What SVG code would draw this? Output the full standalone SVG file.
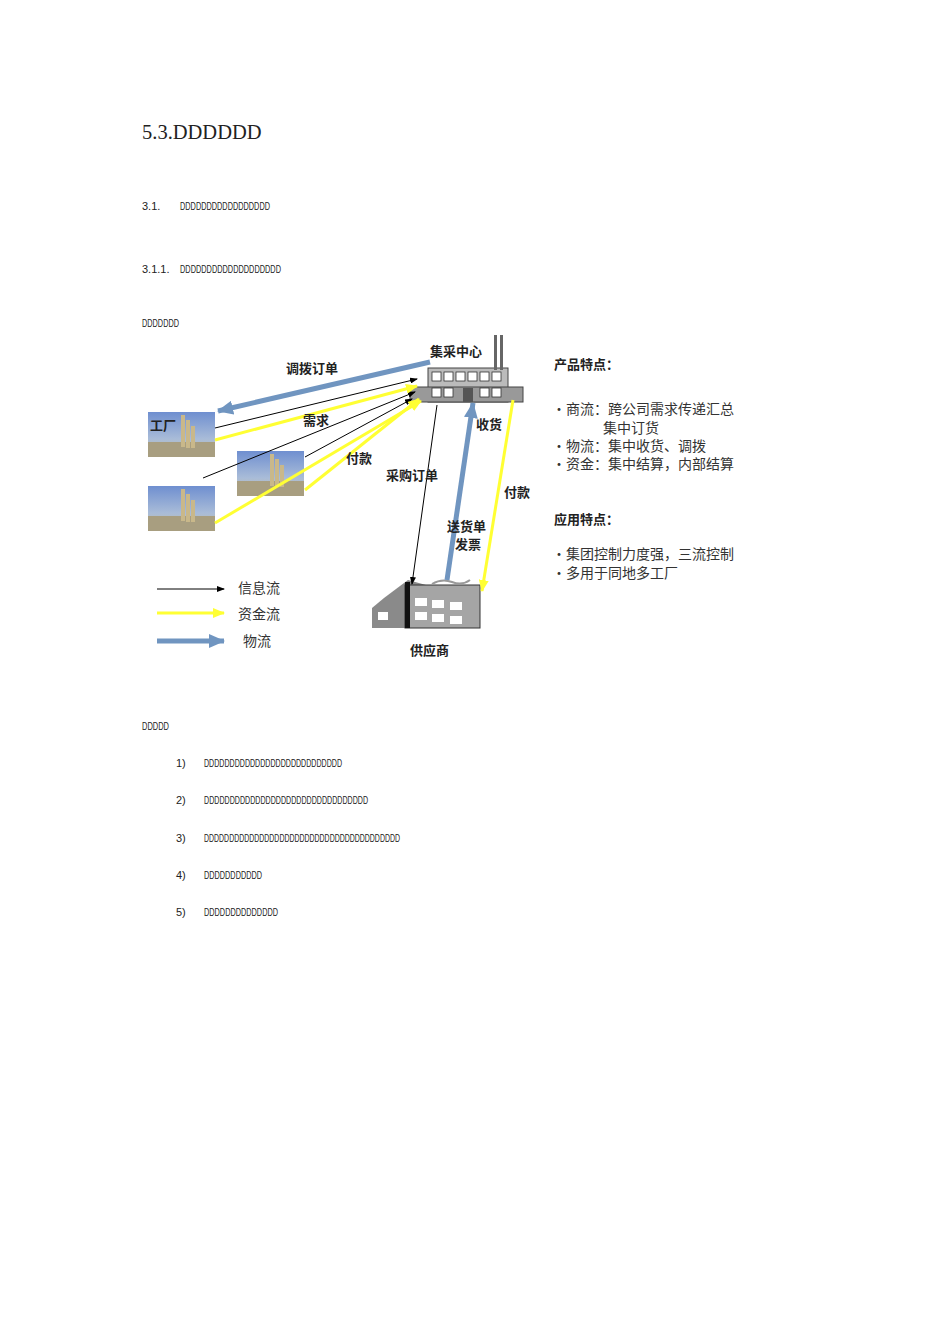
<svg xmlns="http://www.w3.org/2000/svg" width="950" height="1344" viewBox="0 0 950 1344">
<style>
.d{font-family:"Liberation Sans Narrow","Liberation Sans",sans-serif;font-size:11px;fill:#222}
.cj{font-family:"Noto Sans CJK SC",sans-serif;font-size:13px;fill:#222}
.n{font-size:14px;fill:#333}
.b{font-weight:bold}
.inf{stroke:#000;stroke-width:1;fill:none}
.yel{stroke:#ffff33;stroke-width:3;fill:none}
.blu{stroke:#7095c0;stroke-width:5;fill:none}
</style>
<defs>
<marker id="ma" markerWidth="8" markerHeight="6" refX="7" refY="3" orient="auto" markerUnits="userSpaceOnUse"><path d="M0,0L8,3L0,6z" fill="#000"/></marker>
<marker id="my" markerWidth="12" markerHeight="10" refX="11" refY="5" orient="auto" markerUnits="userSpaceOnUse"><path d="M0,0L12,5L0,10z" fill="#ffff33"/></marker>
<marker id="mb" markerWidth="16" markerHeight="14" refX="15" refY="7" orient="auto" markerUnits="userSpaceOnUse"><path d="M0,0L16,7L0,14z" fill="#7095c0"/></marker>
<linearGradient id="sky" x1="0" y1="0" x2="0" y2="1"><stop offset="0" stop-color="#6f8fd0"/><stop offset="0.6" stop-color="#a9bcd8"/><stop offset="1" stop-color="#c8c0a0"/></linearGradient>
<g id="fac"><rect width="67" height="45" fill="url(#sky)"/><rect x="0" y="30" width="67" height="15" fill="#a89e80"/><rect x="33" y="3" width="4" height="32" fill="#c9b88a"/><rect x="38" y="8" width="4" height="28" fill="#c9b88a"/><rect x="43" y="14" width="4" height="22" fill="#c9b88a"/></g>
</defs>
<rect width="950" height="1344" fill="#fff"/>
<text x="142" y="139" font-family="Liberation Serif,serif" font-size="20.5" fill="#222">5.3.DDDDDD</text>
<text x="142" y="210" class="d">3.1.</text><text x="180" y="210" class="d" textLength="90" lengthAdjust="spacingAndGlyphs">DDDDDDDDDDDDDDDDD</text>
<text x="142" y="273" class="d">3.1.1.</text><text x="180" y="273" class="d" textLength="101" lengthAdjust="spacingAndGlyphs">DDDDDDDDDDDDDDDDDDD</text>
<text x="142" y="327" class="d" textLength="37" lengthAdjust="spacingAndGlyphs">DDDDDDD</text>
<g id="factory1"><use href="#fac" x="148" y="412"/><text x="150" y="430" class="cj b" font-size="14">工厂</text></g>
<g id="factory2"><use href="#fac" x="237" y="451"/></g>
<g id="factory3"><use href="#fac" x="148" y="486"/></g>
<g id="center">
<rect x="428" y="368" width="80" height="34" fill="#bbb" stroke="#444"/>
<rect x="410" y="387" width="113" height="15" fill="#999" stroke="#444"/>
<rect x="494" y="335" width="3" height="35" fill="#666"/><rect x="500" y="335" width="3" height="35" fill="#666"/>
<g fill="#fff" stroke="#333" stroke-width="0.8"><rect x="432" y="372" width="9" height="9"/><rect x="444" y="372" width="9" height="9"/><rect x="456" y="372" width="9" height="9"/><rect x="468" y="372" width="9" height="9"/><rect x="480" y="372" width="9" height="9"/><rect x="492" y="372" width="9" height="9"/><rect x="432" y="388" width="9" height="9"/><rect x="444" y="388" width="9" height="9"/><rect x="480" y="388" width="9" height="9"/><rect x="492" y="388" width="9" height="9"/></g>
<rect x="463" y="388" width="10" height="14" fill="#555"/>
<text x="430" y="356" class="cj b">集采中心</text></g>
<g id="supplier">
<path d="M372,628V608L384,598L408,580L480,600V628Z" fill="#8a8a8a"/>
<rect x="405" y="585" width="75" height="43" fill="#a5a5a5" stroke="#333"/>
<rect x="405" y="582" width="5" height="46" fill="#111"/>
<g fill="#fff"><rect x="415" y="598" width="12" height="8"/><rect x="432" y="600" width="12" height="8"/><rect x="450" y="602" width="12" height="8"/><rect x="415" y="612" width="12" height="8"/><rect x="432" y="614" width="12" height="8"/><rect x="450" y="616" width="12" height="8"/><rect x="378" y="612" width="10" height="8"/></g>
<path d="M432,584q10,-6 20,-2t18,-2" stroke="#999" fill="none" stroke-width="2"/>
<text x="410" y="655" class="cj b">供应商</text></g>
<g id="connectors">
<line class="blu" x1="430" y1="362" x2="218" y2="411" marker-end="url(#mb)"/>
<line class="inf" x1="215" y1="428" x2="417" y2="379" marker-end="url(#ma)"/>
<line class="inf" x1="203" y1="478" x2="415" y2="392" marker-end="url(#ma)"/>
<line class="inf" x1="305" y1="457" x2="412" y2="399" marker-end="url(#ma)"/>
<line class="yel" x1="215" y1="440" x2="417" y2="386" marker-end="url(#my)"/>
<line class="yel" x1="305" y1="490" x2="419" y2="399" marker-end="url(#my)"/>
<line class="yel" x1="215" y1="523" x2="421" y2="401" marker-end="url(#my)"/>
<line class="inf" x1="437" y1="405" x2="412" y2="584" marker-end="url(#ma)"/>
<line class="blu" x1="447" y1="580" x2="473" y2="403" marker-end="url(#mb)"/>
<line class="yel" x1="513" y1="400" x2="482" y2="591" marker-end="url(#my)"/>
<text x="286" y="373" class="cj b">调拨订单</text>
<text x="303" y="425" class="cj b">需求</text>
<text x="346" y="463" class="cj b">付款</text>
<text x="386" y="480" class="cj b">采购订单</text>
<text x="476" y="429" class="cj b">收货</text>
<text x="504" y="497" class="cj b">付款</text>
<text x="447" y="531" class="cj b">送货单</text>
<text x="455" y="549" class="cj b">发票</text>
</g>
<g id="legend">
<line class="inf" x1="157" y1="589" x2="224" y2="589" marker-end="url(#ma)"/><text x="238" y="593" class="cj n">信息流</text>
<line class="yel" x1="157" y1="613" x2="224" y2="613" marker-end="url(#my)"/><text x="238" y="619" class="cj n">资金流</text>
<line class="blu" x1="157" y1="641" x2="224" y2="641" marker-end="url(#mb)"/><text x="243" y="646" class="cj n">物流</text>
</g>
<g id="notes">
<text x="554" y="369" class="cj b">产品特点：</text>
<text x="552" y="414" class="cj n">•商流：跨公司需求传递汇总</text>
<text x="603" y="433" class="cj n">集中订货</text>
<text x="552" y="451" class="cj n">•物流：集中收货、调拨</text>
<text x="552" y="469" class="cj n">•资金：集中结算，内部结算</text>
<text x="554" y="524" class="cj b">应用特点：</text>
<text x="552" y="559" class="cj n">•集团控制力度强，三流控制</text>
<text x="552" y="578" class="cj n">•多用于同地多工厂</text>
</g>
<text x="142" y="730" class="d" textLength="27" lengthAdjust="spacingAndGlyphs">DDDDD</text>
<text x="176" y="767" class="d">1)</text><text x="204" y="767" class="d" textLength="138" lengthAdjust="spacingAndGlyphs">DDDDDDDDDDDDDDDDDDDDDDDDDDD</text>
<text x="176" y="804" class="d">2)</text><text x="204" y="804" class="d" textLength="164" lengthAdjust="spacingAndGlyphs">DDDDDDDDDDDDDDDDDDDDDDDDDDDDDDDD</text>
<text x="176" y="842" class="d">3)</text><text x="204" y="842" class="d" textLength="196" lengthAdjust="spacingAndGlyphs">DDDDDDDDDDDDDDDDDDDDDDDDDDDDDDDDDDDDDDD</text>
<text x="176" y="879" class="d">4)</text><text x="204" y="879" class="d" textLength="58" lengthAdjust="spacingAndGlyphs">DDDDDDDDDDD</text>
<text x="176" y="916" class="d">5)</text><text x="204" y="916" class="d" textLength="74" lengthAdjust="spacingAndGlyphs">DDDDDDDDDDDDDD</text>
</svg>
